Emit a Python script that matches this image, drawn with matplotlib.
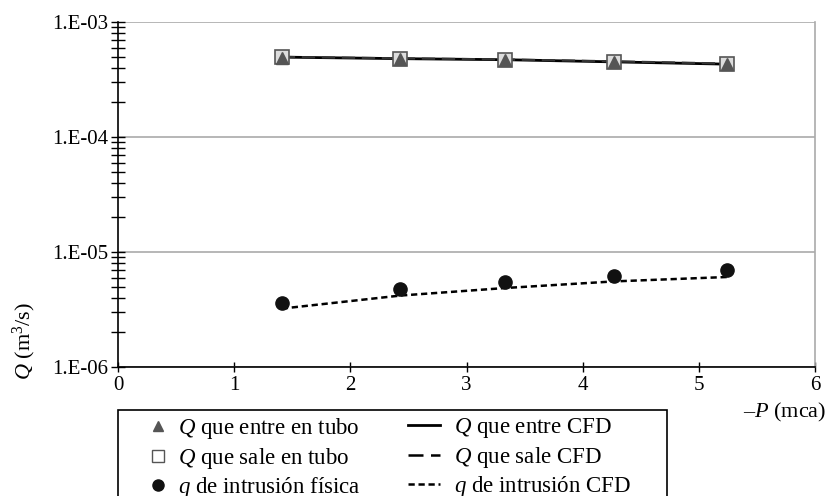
import numpy as np
import matplotlib
matplotlib.use('Agg')
import matplotlib.pyplot as plt
from matplotlib.ticker import FuncFormatter, LogLocator, NullFormatter
from matplotlib.lines import Line2D
from matplotlib.patches import Rectangle

# presion negativa (mca)
presion = [1.41, 2.43, 3.33, 4.27, 5.24]

# caudales medidos y simulados (m3/s)
q_entra_tubo = [4.90e-4, 4.78e-4, 4.67e-4, 4.46e-4, 4.28e-4]
q_sale_tubo = [4.93e-4, 4.77e-4, 4.68e-4, 4.47e-4, 4.30e-4]
q_intrusion = [3.60e-6, 4.77e-6, 5.48e-6, 6.23e-6, 7.03e-6]
q_entra_cfd = [4.95e-4, 4.80e-4, 4.70e-4, 4.50e-4, 4.30e-4]
q_sale_cfd = [4.97e-4, 4.83e-4, 4.72e-4, 4.55e-4, 4.35e-4]
q_intrusion_cfd = [3.22e-6, 4.18e-6, 4.86e-6, 5.55e-6, 6.06e-6]

plt.rcParams['font.family'] = 'Liberation Serif'
plt.rcParams['mathtext.fontset'] = 'custom'
plt.rcParams['mathtext.rm'] = 'Liberation Serif'
plt.rcParams['mathtext.it'] = 'Liberation Serif:italic'

W, H = 827, 496
fig = plt.figure(figsize=(W / 100, H / 100), dpi=100)
ax = fig.add_axes([118 / W, 1 - 367 / H, (815 - 118) / W, (367 - 22) / H])

ax.plot(presion, q_entra_cfd, '-', color='black', lw=2.0, zorder=3)
ax.plot(presion, q_sale_cfd, '--', color='#333333', lw=1.6, dashes=(6, 3), zorder=3)
ax.plot(presion, q_intrusion_cfd, '--', color='black', lw=1.8, dashes=(2.5, 1.5), zorder=3)

ax.plot(presion, q_sale_tubo, 's', ms=10, mfc='#dddddd', mec='#555555', mew=1.2, ls='none', zorder=4)
ax.plot(presion, q_entra_tubo, '^', ms=8, color='#555555', ls='none', zorder=5)
ax.plot(presion, q_intrusion, 'o', ms=9.5, color='#111111', ls='none', zorder=5)

ax.set_yscale('log')
ax.set_ylim(1e-6, 1e-3)
ax.set_xlim(0, 6)
ax.set_xticks(range(7))
ax.yaxis.set_major_locator(LogLocator(base=10, numticks=10))
ax.yaxis.set_minor_locator(LogLocator(base=10, subs=np.arange(2, 10), numticks=10))
ax.yaxis.set_minor_formatter(NullFormatter())
ax.yaxis.set_major_formatter(FuncFormatter(lambda v, p: f'1.E-{int(round(-np.log10(v))):02d}'))

ax.grid(True, axis='y', which='major', color='#aaaaaa', lw=1.2)
ax.spines['top'].set_visible(False)
ax.spines['right'].set_color('#aaaaaa')
ax.spines['right'].set_linewidth(1.2)
ax.spines['left'].set_linewidth(1.2)
ax.spines['bottom'].set_linewidth(1.2)
ax.tick_params(axis='y', which='both', direction='inout', length=10, width=1.0, labelsize=15, pad=2)
ax.tick_params(axis='x', direction='inout', length=7, width=1.0, labelsize=15, pad=3)

ax.set_ylabel(r'$Q$ (m$^3$/s)', fontsize=16, labelpad=6)
ax.yaxis.set_label_coords(-0.115, 0.075)
fig.text(826 / W, 1 - 412 / H, '–$P$ (mca)', ha='right', va='center', fontsize=16)

# legend frame, open at the bottom edge of the figure
fig.patches.append(Rectangle((118 / W, -0.05), (667 - 118) / W, 0.05 + 1 - 410 / H,
                             transform=fig.transFigure, fill=False, ec='black', lw=1.2))

marker_handles = [
    Line2D([], [], marker='^', color='#555555', ls='none', ms=7),
    Line2D([], [], marker='s', mfc='white', mec='#555555', ls='none', ms=8),
    Line2D([], [], marker='o', color='#111111', ls='none', ms=8),
]
marker_labels = [r'$Q$ que entre en tubo', r'$Q$ que sale en tubo', r'$q$ de intrusión física']
line_handles = [
    Line2D([], [], color='black', lw=2.0),
    Line2D([], [], color='black', lw=1.8, dashes=(6, 3)),
    Line2D([], [], color='black', lw=1.8, dashes=(2.5, 1.5)),
]
line_labels = [r'$Q$ que entre CFD', r'$Q$ que sale CFD', r'$q$ de intrusión CFD']

leg1 = fig.legend(marker_handles, marker_labels, loc='upper left',
                  bbox_to_anchor=(151 / W, 1 - 416 / H), fontsize=16.5, frameon=False,
                  handlelength=0.6, handletextpad=0.57, labelspacing=0.2,
                  borderpad=0, borderaxespad=0)
leg2 = fig.legend(line_handles, line_labels, loc='upper left',
                  bbox_to_anchor=(408 / W, 1 - 416 / H), fontsize=16.5, frameon=False,
                  handlelength=1.4, handletextpad=0.6, labelspacing=0.2,
                  borderpad=0, borderaxespad=0)

fig.savefig('out.png', dpi=100)
